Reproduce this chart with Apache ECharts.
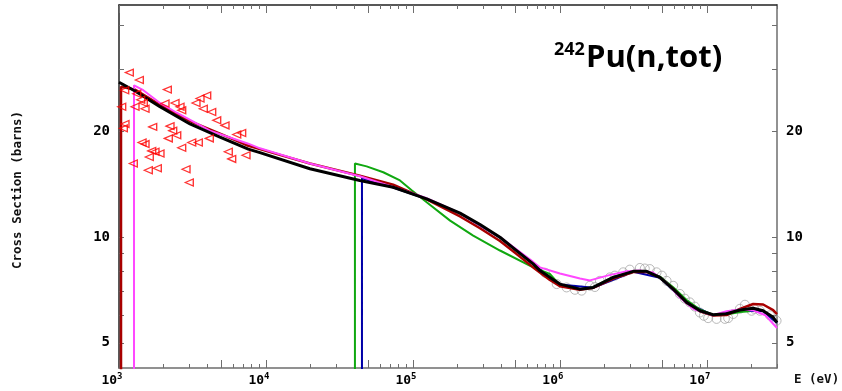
<!DOCTYPE html>
<html>
<head>
<meta charset="utf-8">
<script src="https://cdn.jsdelivr.net/npm/echarts@6.0.0/dist/echarts.min.js"></script>
<style>
  html, body { margin: 0; padding: 0; background: #fff; }
  #chart { width: 842px; height: 391px; }
</style>
</head>
<body>
<div id="chart"></div>
<script>
// energies in eV, cross sections in barns
const blackE = [1000, 1285, 1900, 3040, 4865, 7580, 9100, 19900, 43500, 73400, 124000, 209000, 286000, 391000, 500000, 658000, 731000, 855000, 1.0e6, 1.368e6, 1.684e6, 2.305e6, 3.152e6, 3.889e6, 4.79e6, 5.9e6, 7.28e6, 8.96e6, 1.104e7, 1.361e7, 1.677e7, 2.065e7, 2.415e7, 2.826e7, 3.0e7]
const blackS = [27.6, 26.06, 23.5, 21.0, 19.27, 17.8, 17.4, 15.66, 14.5, 13.87, 12.85, 11.7, 10.86, 9.99, 9.2, 8.39, 8.03, 7.68, 7.35, 7.11, 7.19, 7.68, 7.99, 7.99, 7.68, 7.11, 6.52, 6.17, 6.01, 6.05, 6.2, 6.27, 6.17, 5.91, 5.71]

const redE = [1032, 1032, 1285, 1900, 3040, 4865, 7580, 9100, 19900, 43500, 73400, 124000, 209000, 286000, 391000, 500000, 658000, 855000, 1.0e6, 1.368e6, 1.684e6, 2.305e6, 3.152e6, 3.889e6, 4.79e6, 5.9e6, 7.28e6, 8.96e6, 1.104e7, 1.361e7, 1.677e7, 2.065e7, 2.415e7, 2.826e7, 3.0e7]
const redS = [4.0, 26.8, 26.3, 23.8, 21.4, 19.7, 18.2, 17.8, 16.2, 14.95, 14.1, 12.8, 11.45, 10.6, 9.75, 9.0, 8.2, 7.55, 7.25, 7.08, 7.17, 7.62, 7.95, 7.97, 7.68, 7.12, 6.5, 6.15, 5.98, 6.0, 6.25, 6.45, 6.43, 6.2, 6.04]

const magentaE = [1265, 1265, 1463, 1900, 2470, 4160, 7580, 9100, 19900, 43500, 95500, 124000, 209000, 391000, 658000, 731000, 1.0e6, 1.37e6, 1.6e6, 2.1e6, 2.85e6, 3.5e6, 4.3e6, 5.3e6, 6.55e6, 8.1e6, 1.1e7, 1.36e7, 1.68e7, 2.065e7, 2.5e7, 3.0e7]
const magentaS = [4.0, 27.05, 26.2, 24.1, 22.6, 20.1, 18.45, 17.9, 16.2, 14.9, 13.4, 12.9, 11.7, 10.0, 8.5, 8.2, 7.88, 7.62, 7.53, 7.77, 7.99, 8.04, 7.93, 7.44, 6.73, 6.24, 5.99, 6.15, 6.22, 6.19, 5.99, 5.51]

const greenE = [40300, 40300, 48400, 62800, 81600, 98000, 124000, 179000, 257000, 391000, 658000, 855000, 1.0e6, 1.368e6, 1.684e6, 2.305e6, 3.152e6, 3.889e6, 4.79e6, 5.9e6, 7.28e6, 8.96e6, 1.104e7, 1.361e7, 1.677e7, 1.95e7]
const greenS = [4.0, 16.2, 15.9, 15.3, 14.5, 13.6, 12.57, 11.14, 10.1, 9.16, 8.2, 7.85, 7.3, 7.1, 7.2, 7.7, 8.0, 7.98, 7.72, 7.2, 6.62, 6.22, 6.0, 6.02, 6.12, 6.15]

const blueE = [45000, 45000, 73400, 124000, 209000, 391000, 658000, 1.0e6, 1.684e6, 3.152e6, 4.79e6, 7.28e6, 1.104e7, 1.677e7, 2.415e7, 3.0e7]
const blueS = [4.0, 14.7, 13.85, 12.83, 11.68, 9.97, 8.37, 7.33, 7.17, 7.97, 7.66, 6.5, 6.0, 6.18, 6.15, 5.7]

const triE = [1175, 1375, 1093, 1320, 1405, 1463, 2131, 1285, 1503, 2055, 2404, 2600, 2670, 3340, 3557, 3950, 3745, 4272, 4620, 5262, 6320, 6833, 1098, 1070, 1695, 2223, 2319, 2470, 1434, 1503, 2165, 3123, 3463, 4115, 2670, 1669, 1757, 1900, 1607, 5540, 5844, 7311, 1251, 1582, 1822, 2857, 3008, 1043]
const triS = [29.4, 28.0, 26.2, 25.6, 24.6, 24.1, 26.3, 23.5, 23.2, 24.0, 24.1, 23.5, 22.96, 24.1, 24.8, 25.3, 23.2, 22.7, 21.5, 20.8, 19.6, 19.8, 21.0, 20.4, 20.6, 20.7, 20.1, 19.5, 18.6, 18.4, 19.1, 18.6, 18.6, 19.1, 17.96, 17.6, 17.5, 17.3, 16.9, 17.5, 16.7, 17.1, 16.2, 15.5, 15.7, 15.6, 14.3, 23.5]

const circE = [951000, 1.11e6, 1.405e6, 1.6e6, 1.87e6, 2.19e6, 2.695e6, 3.5e6, 4.09e6, 4.55e6, 5.32e6, 5.9e6, 6.55e6, 7.66e6, 8.96e6, 1.02e7, 1.164e7, 1.396e7, 1.51e7, 1.815e7, 2.014e7, 2.296e7, 2.686e7, 2.98e7, 791000, 1.265e6, 1.73e6, 2.366e6, 2.99e6, 3.78e6, 4.94e6, 7.08e6, 8.28e6, 9.54e6, 1.326e7, 1.677e7, 2.1e7]
const circS = [7.35, 7.19, 7.04, 7.27, 7.51, 7.68, 7.94, 8.17, 8.11, 7.94, 7.51, 7.27, 6.89, 6.52, 6.1, 5.88, 5.85, 5.88, 6.04, 6.42, 6.17, 6.17, 5.99, 5.78, 7.92, 7.08, 7.21, 7.77, 8.08, 8.14, 7.77, 6.68, 6.34, 5.97, 5.85, 6.25, 6.25]

const xDecades = [3, 4, 5, 6, 7]
const yLabelVals = [5, 10, 20]
const yTickVals = [5, 6, 7, 8, 9, 10, 20, 30, 40]

const xMin = 3, xMax = Math.log10(3.0e7)
const yMin = Math.log10(4.24), yMax = Math.log10(45.8)

const lg = Math.log10
const pts = (E, S) => E.map((e, i) => [lg(e), lg(S[i])])

const xShort = [], xTall = []
xDecades.forEach(n => {
  for (let k = 1; k <= 9; k++) {
    const v = n + lg(k)
    if (v > xMax + 1e-9) continue
    if (k === 1 || k === 5) xTall.push(v)
    else xShort.push(v)
  }
})

const mono = 'DejaVu Sans Mono'
const axisGray = '#6e6e6e'

const xBase = {
  type: 'value', min: xMin, max: xMax, gridIndex: 0,
  splitLine: { show: false }
}
const yBase = {
  type: 'value', min: yMin, max: yMax, gridIndex: 0,
  splitLine: { show: false }
}

const chart = echarts.init(document.getElementById('chart'))
chart.setOption({
  animation: false,
  grid: { left: 119, right: 65, top: 5, bottom: 23, outerBoundsMode: 'none' },
  xAxis: [
    Object.assign({}, xBase, {
      position: 'bottom',
      axisLine: { show: true, lineStyle: { color: axisGray, width: 1.5 } },
      axisTick: { show: true, inside: true, length: 4, customValues: xShort, lineStyle: { color: axisGray } },
      axisLabel: {
        customValues: xDecades, margin: 4, padding: [0, 14, 0, 0],
        formatter: v => '{b|10}{s|' + Math.round(v) + '}',
        rich: {
          b: { fontFamily: mono, fontWeight: 'bold', fontSize: 13, color: '#000' },
          s: { fontFamily: mono, fontWeight: 'bold', fontSize: 9, color: '#000', padding: [0, 0, 8, 0] }
        }
      }
    }),
    Object.assign({}, xBase, {
      position: 'bottom',
      axisLine: { show: false },
      axisTick: { show: true, inside: true, length: 8, customValues: xTall, lineStyle: { color: axisGray } },
      axisLabel: { show: false }
    }),
    Object.assign({}, xBase, {
      position: 'top',
      axisLine: { show: true, lineStyle: { color: '#222', width: 1.5 } },
      axisTick: { show: true, inside: true, length: 4, customValues: xShort, lineStyle: { color: axisGray } },
      axisLabel: { show: false }
    }),
    Object.assign({}, xBase, {
      position: 'top',
      axisLine: { show: false },
      axisTick: { show: true, inside: true, length: 8, customValues: xTall, lineStyle: { color: axisGray } },
      axisLabel: { show: false }
    })
  ],
  yAxis: [
    Object.assign({}, yBase, {
      position: 'left',
      axisLine: { show: true, lineStyle: { color: '#222', width: 1.5 } },
      axisTick: { show: true, inside: true, length: 5, customValues: yTickVals.map(lg), lineStyle: { color: axisGray } },
      axisLabel: {
        customValues: yLabelVals.map(lg), margin: 9,
        formatter: v => String(Math.round(Math.pow(10, v))),
        fontFamily: mono, fontWeight: 'bold', fontSize: 14, color: '#000'
      }
    }),
    Object.assign({}, yBase, {
      position: 'right',
      axisLine: { show: true, lineStyle: { color: axisGray, width: 1.5 } },
      axisTick: { show: true, inside: true, length: 5, customValues: yTickVals.map(lg), lineStyle: { color: axisGray } },
      axisLabel: {
        customValues: yLabelVals.map(lg), margin: 9,
        formatter: v => String(Math.round(Math.pow(10, v))),
        fontFamily: mono, fontWeight: 'bold', fontSize: 14, color: '#000'
      }
    })
  ],
  series: [
    {
      type: 'scatter', data: pts(circE, circS), symbol: 'circle', symbolSize: 9,
      itemStyle: { color: 'transparent', borderColor: '#a8a8a8', borderWidth: 1 }, z: 1
    },
    { type: 'line', data: pts(blueE, blueS), showSymbol: false, lineStyle: { color: '#0000a8', width: 2 }, z: 2 },
    { type: 'line', data: pts(greenE, greenS), showSymbol: false, lineStyle: { color: '#10a810', width: 2 }, z: 3 },
    { type: 'line', data: pts(redE, redS), showSymbol: false, lineStyle: { color: '#a80000', width: 2.5 }, z: 4 },
    { type: 'line', data: pts(magentaE, magentaS), showSymbol: false, lineStyle: { color: '#ff48ff', width: 2 }, z: 5 },
    { type: 'line', data: pts(blackE, blackS), showSymbol: false, lineStyle: { color: '#000', width: 3 }, z: 6 },
    {
      type: 'scatter', data: pts(triE, triS), symbol: 'path://M0,5L10,0L10,10Z', symbolSize: [8, 7],
      itemStyle: { color: 'transparent', borderColor: '#ff0000', borderWidth: 1.3 }, z: 7
    }
  ],
  graphic: [
    {
      type: 'text', x: 18, y: 190, rotation: Math.PI / 2,
      style: { text: 'Cross Section (barns)', fontFamily: mono, fontWeight: 'bold', fontSize: 12.5, fill: '#111', align: 'center', verticalAlign: 'middle' }
    },
    {
      type: 'text', x: 794, y: 380,
      style: { text: 'E (eV)', fontFamily: mono, fontWeight: 'bold', fontSize: 12.5, fill: '#111', align: 'left', verticalAlign: 'middle' }
    },
    {
      type: 'text', x: 554, y: 50,
      style: { text: '242', fontFamily: 'Open Sans', fontWeight: 'bold', fontSize: 18, fill: '#000', align: 'left', verticalAlign: 'middle' }
    },
    {
      type: 'text', x: 586, y: 58,
      style: { text: 'Pu(n,tot)', fontFamily: 'Open Sans', fontWeight: 'bold', fontSize: 31, fill: '#000', align: 'left', verticalAlign: 'middle' }
    }
  ]
})
</script>
</body>
</html>
